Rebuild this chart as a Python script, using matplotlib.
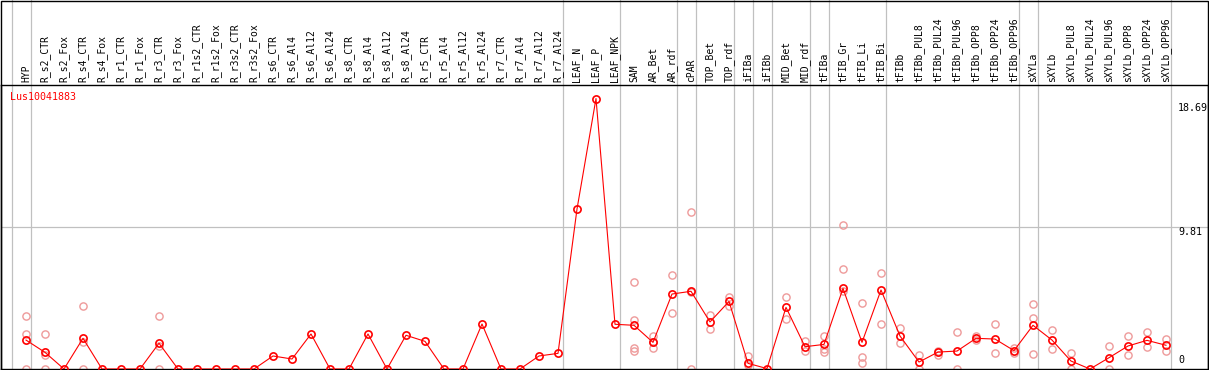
import matplotlib
matplotlib.use("Agg")
import matplotlib.pyplot as plt
from matplotlib.patches import Rectangle
import matplotlib.transforms as mtransforms

gene = "Lus10041883"

samples = ["HYP", "R_s2_CTR", "R_s2_Fox", "R_s4_CTR", "R_s4_Fox", "R_r1_CTR", "R_r1_Fox",
           "R_r3_CTR", "R_r3_Fox", "R_r1s2_CTR", "R_r1s2_Fox", "R_r3s2_CTR", "R_r3s2_Fox",
           "R_s6_CTR", "R_s6_Al4", "R_s6_Al12", "R_s6_Al24", "R_s8_CTR", "R_s8_Al4",
           "R_s8_Al12", "R_s8_Al24", "R_r5_CTR", "R_r5_Al4", "R_r5_Al12", "R_r5_Al24",
           "R_r7_CTR", "R_r7_Al4", "R_r7_Al12", "R_r7_Al24", "LEAF_N", "LEAF_P", "LEAF_NPK",
           "SAM", "AR_Bet", "AR_rdf", "cPAR", "TOP_Bet", "TOP_rdf", "iFIBa", "iFIBb",
           "MID_Bet", "MID_rdf", "tFIBa", "tFIB_Gr", "tFIB_Li", "tFIB_Bi", "tFIBb",
           "tFIBb_PUL8", "tFIBb_PUL24", "tFIBb_PUL96", "tFIBb_OPP8", "tFIBb_OPP24",
           "tFIBb_OPP96", "sXYLa", "sXYLb", "sXYLb_PUL8", "sXYLb_PUL24", "sXYLb_PUL96",
           "sXYLb_OPP8", "sXYLb_OPP24", "sXYLb_OPP96"]

means = [2.00, 1.15, 0, 2.12, 0, 0, 0, 1.78, 0, 0, 0, 0, 0,
         0.90, 0.69, 2.42, 0, 0, 2.42, 0, 2.33, 1.91, 0, 0, 3.11,
         0, 0, 0.90, 1.08, 11.05, 18.69, 3.09,
         3.02, 1.84, 5.18, 5.37, 3.25, 4.67, 0.39, 0.03,
         4.26, 1.54, 1.70, 5.57, 1.84, 5.46, 2.28,
         0.48, 1.17, 1.24, 2.12, 2.07, 1.27,
         3.02, 2.00, 0.55, 0, 0.78, 1.59, 1.98, 1.64]

# replicate values (sample index, value)
rep_idx = [0, 0, 0, 1, 1, 1, 3, 3, 3, 7, 7, 7,
           32, 32, 32, 32, 33, 33, 33, 34, 34, 35, 35, 35, 36, 36, 37, 37,
           38, 38, 40, 40, 41, 41, 42, 42, 42, 43, 43, 43, 44, 44, 44,
           45, 45, 46, 46, 47, 47, 48, 48, 49, 49, 50, 50, 51, 51, 52, 52,
           53, 53, 53, 54, 54, 55, 55, 57, 57, 58, 58, 59, 59, 60, 60]
rep_val = [3.66, 2.42, 0, 2.42, 1.0, 0, 4.35, 1.9, 0, 3.66, 1.6, 0,
           5.99, 3.38, 1.43, 1.27, 2.28, 1.43, 1.84, 6.49, 3.85, 10.82, 5.3, 0, 3.71, 2.74, 5.00, 4.35,
           0.90, 0.27, 4.95, 3.48, 1.96, 1.27, 2.28, 1.36, 1.17, 9.92, 6.89, 5.4, 4.54, 0.81, 0.39,
           6.61, 3.09, 2.81, 1.78, 0.94, 0, 1.27, 0.94, 2.56, 0, 2.00, 2.25, 3.09, 1.08, 1.43, 1.13,
           4.49, 3.50, 1.01, 2.69, 1.36, 1.08, 0, 1.59, 0, 2.28, 0.94, 2.56, 1.54, 2.09, 1.24]

# last sample of each group
group_ends = [-1, 0, 28, 31, 34, 35, 37, 38, 39, 41, 42, 45, 52, 53, 60]

ymax = 18.69
ytop = ymax * 1.05

W, H = 1209, 370
fig = plt.figure(figsize=(W / 100, H / 100), dpi=100)
ax = fig.add_axes([1 / W, 1 / H, 1207 / W, 284 / H])
ax.set_xlim(-25 / 19, 1182 / 19)
ax.set_ylim(0, ytop)
ax.set_xticks([])
ax.set_yticks([])
for s in ax.spines.values():
    s.set_color("black")
    s.set_linewidth(1.0)

grey = "#c0c0c0"
head = 1 + 85 / 284
for b in group_ends:
    ax.axvline(b + 0.25, ymin=0, ymax=head, color=grey, lw=0.9, clip_on=False, zorder=1)
ax.axhline(ytop / 2, color=grey, lw=0.9, zorder=1)

x = list(range(len(samples)))
ax.plot(rep_idx, rep_val, "o", ms=5.2, mfc="none", mec="#ee9a9a", mew=1.0, zorder=2, clip_on=True)
ax.plot(x, means, "-", color="red", lw=0.8, zorder=3)
ax.plot(x, means, "o", ms=5.2, mfc="none", mec="red", mew=1.2, zorder=4)

mono = "DejaVu Sans Mono"
trans = mtransforms.blended_transform_factory(ax.transData, ax.transAxes)
for i, name in enumerate(samples):
    ax.text(i, 1 + 3 / 284, name, transform=trans, rotation=90, ha="center", va="bottom",
            family=mono, fontsize=7, color="black", clip_on=False)

ax.text(9 / 1207, 1 - 7 / 284, gene, transform=ax.transAxes, ha="left", va="top",
        family=mono, fontsize=7.2, color="red")

xl = (1178 - 1) / 1207
ax.text(xl, ymax - 0.3, f"{ymax:.2f}", transform=mtransforms.blended_transform_factory(ax.transAxes, ax.transData),
        ha="left", va="top", family=mono, fontsize=7.2, color="black")
ax.text(xl, ytop / 2, f"{ytop / 2:.2f}", transform=mtransforms.blended_transform_factory(ax.transAxes, ax.transData),
        ha="left", va="top", family=mono, fontsize=7.2, color="black")
ax.text(xl, 0.25, "0", transform=mtransforms.blended_transform_factory(ax.transAxes, ax.transData),
        ha="left", va="bottom", family=mono, fontsize=7.2, color="black")

fig.add_artist(Rectangle((0.5 / W, 0.5 / H), 1 - 1.5 / W, 1 - 1.5 / H, transform=fig.transFigure,
                         fill=False, edgecolor="black", lw=1.0))

fig.savefig("out.png", dpi=100)
